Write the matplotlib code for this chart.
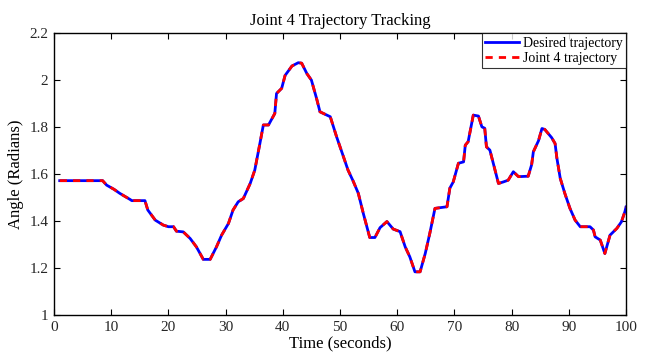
import numpy as np
import matplotlib
matplotlib.use("Agg")
import matplotlib.pyplot as plt

plt.rcParams['font.family'] = ['Liberation Serif', 'DejaVu Serif']

# time (s) and joint 4 angle (rad)
time_s = [1.0, 8.5, 9.2, 10.5, 11.5, 13.3, 13.6, 15.9, 16.4, 17.7, 19.1, 20.0, 20.9,
          21.4, 22.6, 23.8, 24.9, 26.1, 27.3, 28.4, 29.3, 30.5, 31.3, 32.2, 33.1,
          34.3, 35.1, 36.0, 36.6, 37.5, 38.6, 38.9, 39.8, 40.4, 41.6, 42.7, 43.3,
          44.2, 45.0, 45.9, 46.5, 48.3, 49.4, 50.6, 51.4, 52.3, 53.2, 54.1, 55.2,
          56.1, 57.0, 58.2, 59.3, 60.5, 61.4, 62.2, 63.1, 64.0, 64.9, 65.7, 66.6,
          68.7, 69.2, 69.8, 70.7, 71.6, 71.9, 72.4, 73.3, 74.2, 74.8, 75.3, 75.6,
          76.2, 77.1, 77.7, 78.6, 79.4, 80.3, 81.2, 82.9, 83.5, 83.8, 84.7, 85.3,
          85.8, 87.0, 87.6, 87.9, 88.5, 89.3, 90.2, 91.1, 92.0, 93.7, 94.3, 94.6,
          95.5, 96.3, 97.2, 98.4, 99.2, 99.8, 100.0]
desired = [1.572, 1.572, 1.553, 1.535, 1.518, 1.492, 1.487, 1.487, 1.447, 1.404, 1.383,
           1.376, 1.376, 1.357, 1.354, 1.326, 1.290, 1.237, 1.237, 1.290, 1.340, 1.390,
           1.447, 1.482, 1.496, 1.560, 1.617, 1.731, 1.809, 1.809, 1.858, 1.943, 1.965,
           2.020, 2.060, 2.074, 2.072, 2.028, 2.000, 1.922, 1.865, 1.844, 1.759, 1.674,
           1.617, 1.570, 1.518, 1.430, 1.330, 1.330, 1.372, 1.398, 1.366, 1.355, 1.290,
           1.248, 1.184, 1.184, 1.262, 1.348, 1.454, 1.461, 1.540, 1.567, 1.646, 1.652,
           1.723, 1.738, 1.851, 1.847, 1.801, 1.795, 1.716, 1.702, 1.617, 1.560, 1.567,
           1.574, 1.610, 1.589, 1.591, 1.640, 1.695, 1.742, 1.794, 1.790, 1.755, 1.730,
           1.670, 1.582, 1.518, 1.454, 1.404, 1.376, 1.376, 1.362, 1.333, 1.319, 1.262,
           1.340, 1.369, 1.397, 1.440, 1.460]
# tracked trajectory sits on top of the desired one in the picture
joint4 = list(desired)

xticks = list(range(0, 101, 10))
yticks = [1, 1.2, 1.4, 1.6, 1.8, 2, 2.2]
ytick_labels = ['1', '1.2', '1.4', '1.6', '1.8', '2', '2.2']

fig = plt.figure(figsize=(6.49, 3.56), dpi=100)
ax = fig.add_axes([0.0832, 0.115, 0.8814, 0.792])

ax.plot(time_s, desired, color='#0000ff', lw=2.0, label='Desired trajectory')
ax.plot(time_s, joint4, color='#ff0000', lw=2.0, ls=(0, (2.6, 2.2)), label='Joint 4 trajectory')

ax.set_xlim(0, 100)
ax.set_ylim(1, 2.2)
ax.set_xticks(xticks)
ax.set_yticks(yticks)
ax.set_yticklabels(ytick_labels)
ax.tick_params(direction='in', top=True, right=True, length=4, width=0.8,
               labelsize=11, pad=4, labelcolor='#262626')
for s in ax.spines.values():
    s.set_linewidth(1.0)

ax.set_title('Joint 4 Trajectory Tracking', fontsize=12, pad=6)
ax.set_xlabel('Time (seconds)', fontsize=12, labelpad=1)
ax.set_ylabel('Angle (Radians)', fontsize=12, labelpad=4)

leg = ax.legend(loc='upper right', fontsize=10, frameon=True, fancybox=False,
                edgecolor='black', handlelength=2.4, handletextpad=0.3,
                borderaxespad=0.0, borderpad=0.25, labelspacing=0.15)
leg.get_frame().set_linewidth(0.8)

fig.savefig('out.png', dpi=100)
